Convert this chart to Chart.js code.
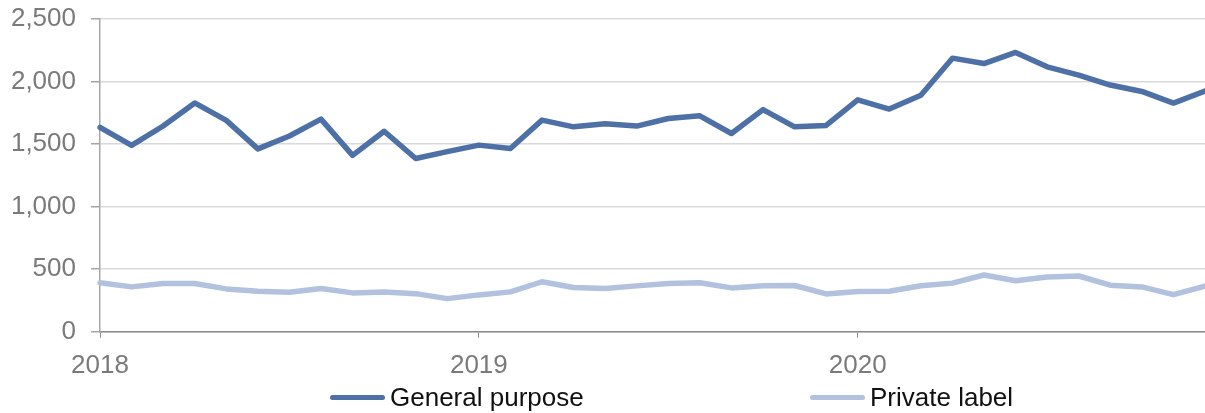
<!DOCTYPE html>
<html>
<head>
<meta charset="utf-8">
<title>General purpose vs private label</title>
<script src="https://cdn.jsdelivr.net/npm/chart.js@4.4.1/dist/chart.umd.min.js"></script>
<style>
  html, body { margin: 0; padding: 0; background: #fff; overflow: hidden; }
  #wrap { position: relative; width: 1205px; height: 413px; overflow: hidden; }
  #chart { position: absolute; left: 0; top: 0; }
  #legend { position: absolute; top: 381px; left: 0; height: 32px; font: 26px 'Liberation Sans', Arial, sans-serif; color: #111; }
  .item { position: absolute; top: 0; display: flex; align-items: center; height: 32px; white-space: nowrap; }
  .swatch { display: inline-block; width: 55px; height: 5px; border-radius: 3px; margin-right: 5px; }
</style>
</head>
<body>
<div id="wrap">
  <canvas id="chart" width="1205" height="393"></canvas>
  <div id="legend"></div>
</div>
<script>
// monthly series, Jan 2018 .. Dec 2020
const months = [
  '2018-01','2018-02','2018-03','2018-04','2018-05','2018-06','2018-07','2018-08','2018-09','2018-10','2018-11','2018-12',
  '2019-01','2019-02','2019-03','2019-04','2019-05','2019-06','2019-07','2019-08','2019-09','2019-10','2019-11','2019-12',
  '2020-01','2020-02','2020-03','2020-04','2020-05','2020-06','2020-07','2020-08','2020-09','2020-10','2020-11','2020-12'
];
const generalPurpose = [
  1633, 1490, 1645, 1829, 1690, 1462, 1565, 1700, 1410, 1603, 1385, 1440,
  1492, 1465, 1692, 1638, 1662, 1644, 1705, 1726, 1585, 1776, 1638, 1649,
  1854, 1780, 1891, 2187, 2144, 2233, 2118, 2052, 1972, 1921, 1828, 1925
];
const privateLabel = [
  392, 359, 386, 386, 343, 324, 316, 346, 311, 319, 305, 265,
  295, 319, 400, 354, 346, 367, 386, 392, 351, 368, 370, 303,
  322, 324, 368, 389, 454, 408, 438, 446, 373, 359, 297, 365
];
const seriesNames = ['General purpose', 'Private label'];
const seriesColors = ['#4d70a6', '#b2c1dd'];
const yTicks = [0, 500, 1000, 1500, 2000, 2500];

const FONT = "'Liberation Sans', Arial, sans-serif";
const GREY_TXT = '#7a7a7a';

const ctx = document.getElementById('chart').getContext('2d');
const chart = new Chart(ctx, {
  type: 'line',
  data: {
    labels: months,
    datasets: [generalPurpose, privateLabel].map((d, i) => ({
      label: seriesNames[i],
      data: d,
      borderColor: seriesColors[i],
      backgroundColor: seriesColors[i],
      borderWidth: 5.5,
      pointRadius: 0,
      tension: 0,
      borderJoinStyle: 'round',
      borderCapStyle: 'round'
    }))
  },
  options: {
    responsive: false,
    animation: false,
    layout: { padding: { top: 19, right: 0, left: 0, bottom: 0 } },
    plugins: { legend: { display: false }, tooltip: { enabled: false } },
    scales: {
      x: {
        type: 'category',
        offset: false,
        border: { color: '#8c8c8c', width: 1.5 },
        grid: {
          drawOnChartArea: false,
          tickLength: 6,
          tickColor: c => (c.index % 12 === 0 ? '#8c8c8c' : 'transparent')
        },
        ticks: {
          autoSkip: false,
          maxRotation: 0,
          padding: 12,
          color: GREY_TXT,
          font: { family: FONT, size: 26 },
          callback: function (v) {
            const l = this.getLabelForValue(v);
            return l.endsWith('-01') ? l.slice(0, 4) : '';
          }
        },
        afterFit: s => { s.paddingLeft = 0; s.paddingRight = 0; }
      },
      y: {
        min: 0,
        max: 2500,
        afterBuildTicks: s => { s.ticks = yTicks.map(v => ({ value: v })); },
        afterFit: s => { s.width = 100; s.paddingTop = 0; s.paddingBottom = 0; },
        border: { color: '#a6a6a6', width: 1.5 },
        grid: { color: '#d9d9d9', lineWidth: 1.5, tickLength: 9, tickColor: '#a6a6a6' },
        ticks: {
          padding: 15,
          color: GREY_TXT,
          font: { family: FONT, size: 26 },
          callback: v => v.toLocaleString('en-US')
        }
      }
    }
  }
});

// legend built from the datasets
const legend = document.getElementById('legend');
const itemLeft = [330, 810];
chart.data.datasets.forEach((ds, i) => {
  const it = document.createElement('div');
  it.className = 'item';
  it.style.left = itemLeft[i] + 'px';
  it.innerHTML = '<span class="swatch" style="background:' + ds.borderColor + '"></span><span>' + ds.label + '</span>';
  legend.appendChild(it);
});
</script>
</body>
</html>
